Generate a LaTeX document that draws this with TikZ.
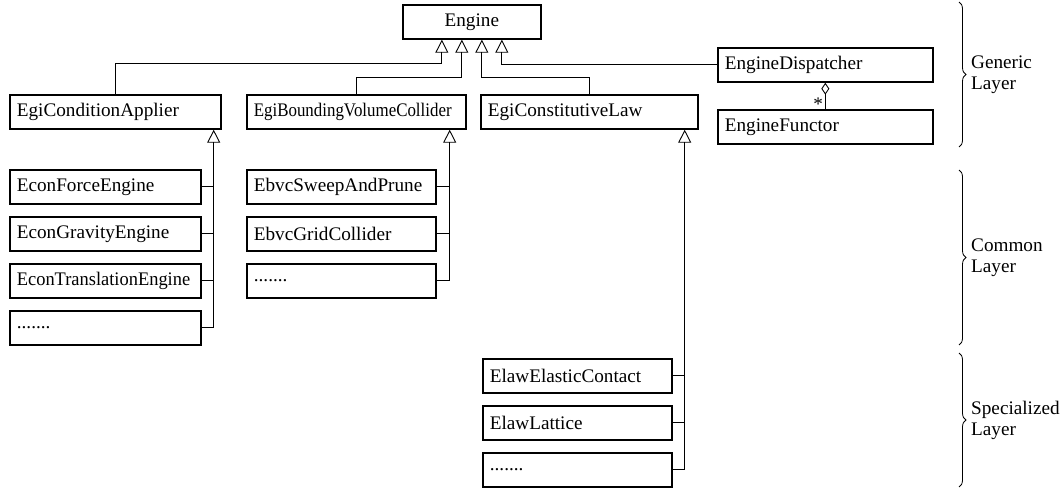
\documentclass[tikz,border=0pt]{standalone}
\usepackage{fontspec}
\setmainfont{Liberation Serif}
\usetikzlibrary{arrows.meta,decorations.pathreplacing}
\newcommand\clsdots{.......}

\begin{document}
\begin{tikzpicture}
  [x=1pt,y=1pt,font=\fontsize{19.2}{21}\selectfont,
   cls/.style={draw,line width=1.7pt,anchor=north west,minimum height=34pt,
     inner xsep=7pt,inner ysep=0pt,align=left},
   gen/.style={line width=0.9pt,-{Triangle[open,width=13pt,length=13pt]}},
   lnk/.style={line width=0.9pt},
   agg/.style={line width=0.9pt,-{Diamond[open,width=8pt,length=12pt]}},
   lay/.style={decorate,decoration={brace,amplitude=7pt},line width=0.8pt}]
  \useasboundingbox (0,0) rectangle (1064,-490);

  % generic layer
  \node[cls,align=center,text width=124pt] (eng) at (402,-4) {Engine};
  \node[cls,text width=197pt] (cap) at (9,-94)   {EgiConditionApplier};
  \node[cls,text width=205pt] (bvc) at (246,-94) {\scalebox{.88}[1]{EgiBoundingVolumeCollider}};
  \node[cls,text width=203pt] (law) at (480,-94) {EgiConstitutiveLaw};
  \node[cls,text width=201pt] (disp) at (717,-47) {EngineDispatcher};
  \node[cls,text width=201pt] (fun) at (717,-109) {EngineFunctor};

  % common and specialized layers
  \foreach \i/\t in {1/EconForceEngine,2/EconGravityEngine,3/\scalebox{.96}[1]{EconTranslationEngine},4/\clsdots}
    \node[cls,text width=177pt] (econ\i) at (9,-122-47*\i) {\t};
  \foreach \i/\t in {1/EbvcSweepAndPrune,2/EbvcGridCollider,3/\clsdots}
    \node[cls,text width=175pt] (ebvc\i) at (246,-122-47*\i) {\t};
  \foreach \i/\t in {1/ElawElasticContact,2/ElawLattice,3/\clsdots}
    \node[cls,text width=175pt] (elaw\i) at (482,-311-47*\i) {\t};

  % inheritance
  \foreach \n/\d in {t1/-30,t2/-10,t3/10,t4/30}
    \coordinate (\n) at ([xshift=\d pt]eng.south);
  \draw[gen] (cap.north) -- ++(0,31) -| (t1);
  \draw[gen] (bvc.north) -- ++(0,17) -| (t2);
  \draw[gen] (law.north) -- ++(0,17) -| (t3);
  \draw[gen] (disp.west) -| (t4);

  \coordinate (capt) at ([xshift=-8pt]cap.south east);
  \coordinate (bvct) at ([xshift=-17pt]bvc.south east);
  \coordinate (lawt) at ([xshift=-14pt]law.south east);
  \draw[gen] (econ4.east) -| (capt);
  \draw[gen] (ebvc3.east) -| (bvct);
  \draw[gen] (elaw3.east) -| (lawt);
  \foreach \i in {1,2,3}
    \draw[lnk] (econ\i.east) -- (econ\i.east -| capt);
  \foreach \i in {1,2}
    \draw[lnk] (ebvc\i.east) -- (ebvc\i.east -| bvct);
  \foreach \i in {1,2}
    \draw[lnk] (elaw\i.east) -- (elaw\i.east -| lawt);

  % aggregation
  \draw[agg] (fun.north) -- node[pos=.2,left,inner sep=2pt] {*} (disp.south);

  % layers
  \draw[lay] (959,-2) -- (959,-147);
  \draw[lay] (959,-170) -- (959,-345);
  \draw[lay] (959,-353) -- (959,-487);
  \node[anchor=west,align=left,inner sep=0pt] (lgen) at (971,-74.5) {Generic\\Layer};
  \node[anchor=west,align=left,inner sep=0pt] (lcom) at (971,-257.5) {Common\\Layer};
  \node[anchor=west,align=left,inner sep=0pt] (lspe) at (971,-420) {Specialized\\Layer};
\end{tikzpicture}
\end{document}
